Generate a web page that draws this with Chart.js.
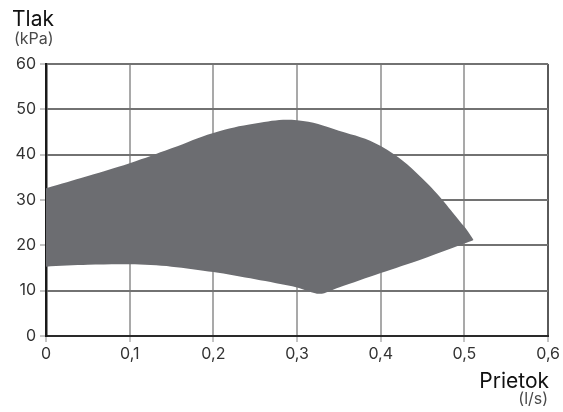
<!DOCTYPE html>
<html>
<head>
<meta charset="utf-8">
<script src="https://cdn.jsdelivr.net/npm/chart.js@4/dist/chart.umd.min.js"></script>
<style>
  html, body { margin: 0; padding: 0; background: #ffffff; }
  #wrap { position: relative; width: 563px; height: 412px; }
</style>
</head>
<body>
<div id="wrap"><canvas id="c" width="563" height="412"></canvas></div>
<script>
// Pump operating range: pressure (kPa) against flow (l/s)
const upperFlow     = [0, 0.05, 0.10, 0.15, 0.20, 0.25, 0.30, 0.35, 0.40, 0.45, 0.50, 0.511];
const upperPressure = [32.6, 35.3, 38.1, 41.4, 44.8, 46.9, 47.6, 45.3, 41.9, 34.7, 24.1, 21.2];

const lowerFlow     = [0, 0.05, 0.10, 0.15, 0.20, 0.25, 0.30, 0.327, 0.35, 0.40, 0.45, 0.50, 0.511];
const lowerPressure = [15.3, 15.7, 15.8, 15.3, 14.1, 12.5, 10.7, 9.3, 10.7, 13.9, 17.0, 20.4, 21.2];

const flowTicks = [0, 0.1, 0.2, 0.3, 0.4, 0.5, 0.6];
const pressureTicks = [0, 10, 20, 30, 40, 50, 60];

const toPoints = (xs, ys) => xs.map((x, i) => ({ x: x, y: ys[i] }));

const FONT = 'Inter, "Open Sans", "DejaVu Sans", sans-serif';
const AREA = '#6c6d71';

// Axis captions placed around the plot frame
const captions = {
  id: 'captions',
  afterDraw(chart) {
    const ctx = chart.ctx;
    const a = chart.chartArea;
    ctx.save();
    ctx.textBaseline = 'alphabetic';
    ctx.fillStyle = '#111111';
    ctx.font = '21px ' + FONT;
    ctx.textAlign = 'left';
    ctx.fillText('Tlak', 12, 26);
    ctx.fillStyle = '#4a4a4a';
    ctx.font = '16px ' + FONT;
    ctx.fillText('(kPa)', 14, 44);
    ctx.textAlign = 'right';
    ctx.fillStyle = '#111111';
    ctx.font = '21px ' + FONT;
    ctx.fillText('Prietok', a.right + 1, 388);
    ctx.fillStyle = '#4a4a4a';
    ctx.font = '16px ' + FONT;
    ctx.fillText('(l/s)', a.right, 404);
    ctx.restore();
  }
};

new Chart(document.getElementById('c'), {
  type: 'line',
  data: {
    datasets: [
      {
        label: 'max',
        data: toPoints(upperFlow, upperPressure),
        borderWidth: 0,
        borderColor: AREA,
        backgroundColor: AREA,
        pointRadius: 0,
        tension: 0.4,
        fill: '+1'
      },
      {
        label: 'min',
        data: toPoints(lowerFlow, lowerPressure),
        borderWidth: 0,
        borderColor: AREA,
        backgroundColor: AREA,
        pointRadius: 0,
        tension: 0.3,
        fill: false
      }
    ]
  },
  plugins: [captions],
  options: {
    responsive: false,
    animation: false,
    events: [],
    layout: { padding: { left: 0, right: 14, top: 64, bottom: 0 } },
    plugins: {
      legend: { display: false },
      tooltip: { enabled: false },
      title: { display: false }
    },
    scales: {
      x: {
        type: 'linear',
        min: 0,
        max: 0.6,
        afterBuildTicks(scale) { scale.ticks = flowTicks.map(v => ({ value: v })); },
        afterFit(scale) { scale.height = 76; },
        ticks: {
          color: '#333333',
          font: { family: FONT, size: 16 },
          padding: 3,
          maxRotation: 0,
          callback: v => (v === 0 ? '0' : v.toFixed(1).replace('.', ','))
        },
        grid: {
          color: ctx => (ctx.tick && Math.abs(ctx.tick.value - 0.6) < 1e-9 ? '#5a5a5a' : '#a9a9a9'),
          lineWidth: 2,
          tickLength: 6,
          tickColor: '#8a8a8a',
          tickWidth: 1
        },
        border: { display: true, color: '#2a2a2a', width: 2 }
      },
      y: {
        type: 'linear',
        min: 0,
        max: 60,
        afterBuildTicks(scale) { scale.ticks = pressureTicks.map(v => ({ value: v })); },
        afterFit(scale) { scale.width = 46; },
        ticks: {
          color: '#333333',
          font: { family: FONT, size: 16 },
          padding: 4
        },
        grid: {
          color: '#727272',
          lineWidth: 2,
          tickLength: 6,
          tickColor: '#8a8a8a',
          tickWidth: 1
        },
        border: { display: true, color: '#1a1a1a', width: 2.5 }
      }
    }
  }
});
</script>
</body>
</html>
